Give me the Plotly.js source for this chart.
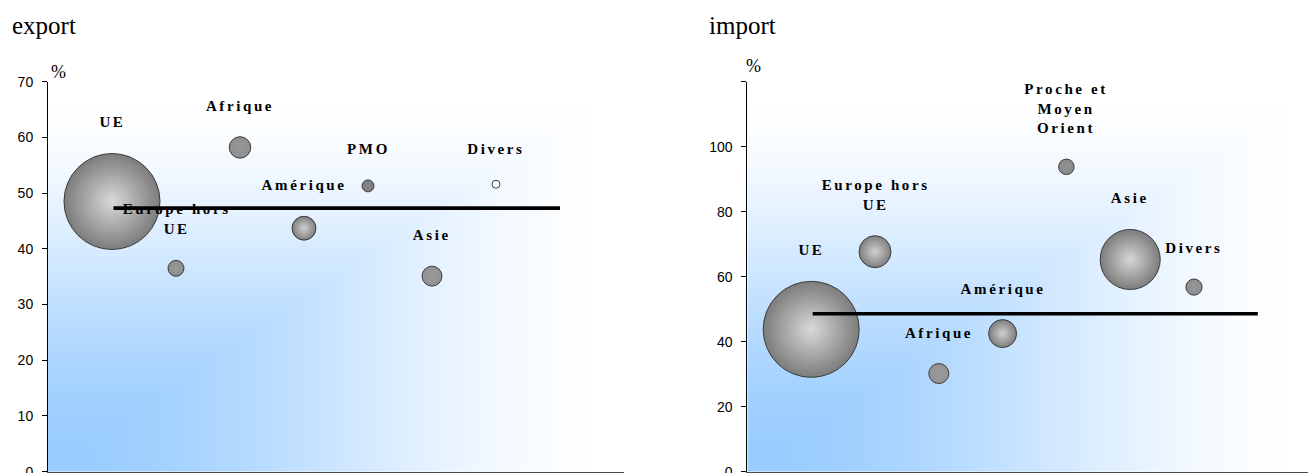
<!DOCTYPE html>
<html>
<head>
<meta charset="utf-8">
<script src="https://cdn.plot.ly/plotly-3.0.1.min.js"></script>
<style>
html,body{margin:0;padding:0;background:#ffffff;}
#chart{width:1308px;height:473px;}
</style>
</head>
<body>
<div id="chart"></div>
<script>
// ---------- data ----------
const exportLabels = ["UE", "Europe hors<br>UE", "Afrique", "Amérique", "PMO", "Asie", "Divers"];
const exportValues = [48.5, 36.5, 58.2, 43.7, 51.3, 35.1, 51.6];
const exportWeights = [58, 1.6, 2.9, 3.6, 0.9, 2.5, 0.4];
const exportAverage = 47.3;

const importLabels = ["UE", "Europe hors<br>UE", "Afrique", "Amérique", "Proche et<br>Moyen<br>Orient", "Asie", "Divers"];
const importValues = [43.8, 67.7, 30.2, 42.5, 93.8, 65.3, 56.8];
const importWeights = [46, 5.1, 2.0, 3.9, 1.2, 18, 1.3];
const importAverage = 48.6;

const averageSpan = [1, 8];
const exportTicks = [0, 10, 20, 30, 40, 50, 60, 70];
const exportTickText = ["0", "10", "20", "30", "40", "50", "60", "70"];
const importTicks = [0, 20, 40, 60, 80, 100, 120];
const importTickText = ["0", "20", "40", "60", "80", "100", ""];

// ---------- styles ----------
const W = 1308, H = 473;
const MAXR = 48;               // radius of the largest bubble (px)
const LABEL_GAP = 21;          // px between bubble top and label box bottom
const exportEdge   = ["#7c7c7c", "#8e8e8e", "#8f8f8f", "#7d7d7d", "#7a7a7a", "#929292", "#ffffff"];
const exportCenter = ["#d9d9d9", "#969696", "#979797", "#d0d0d0", "#8a8a8a", "#999999", "#ffffff"];
const importEdge   = ["#7c7c7c", "#7f7f7f", "#939393", "#7d7d7d", "#8a8a8a", "#7c7c7c", "#8e8e8e"];
const importCenter = ["#d9d9d9", "#cfcfcf", "#9a9a9a", "#d0d0d0", "#909090", "#d6d6d6", "#969696"];

function idx(arr){ return arr.map((_, i) => i + 1); }
function radii(w){ const m = Math.max(...w); return w.map(v => MAXR * Math.sqrt(v / m)); }

function bubbleTrace(vals, weights, edge, center, xa, ya){
  const m = Math.max(...weights);
  return {
    type: 'scatter', mode: 'markers', x: idx(vals), y: vals, xaxis: xa, yaxis: ya,
    cliponaxis: false, hoverinfo: 'skip',
    marker: {
      size: weights, sizemode: 'area', sizeref: m / (2 * MAXR * MAXR),
      color: edge, gradient: {type: 'radial', color: center},
      line: {color: '#3c3c3c', width: 1}, opacity: 1
    }
  };
}

const labelFont = {family: 'Liberation Serif, Times New Roman, serif', size: 15, color: '#000000', weight: 'bold'};
const annotations = [];
const labelIdx = [];
function addLabels(labels, vals, weights, xr, yr){
  const r = radii(weights);
  labels.forEach((t, i) => {
    labelIdx.push(annotations.length);
    annotations.push({
      text: t, x: i + 1, y: vals[i], xref: xr, yref: yr, showarrow: false,
      xanchor: 'center', yanchor: 'bottom', align: 'center',
      yshift: r[i] + LABEL_GAP, font: labelFont
    });
  });
}
addLabels(exportLabels, exportValues, exportWeights, 'x', 'y');
addLabels(importLabels, importValues, importWeights, 'x2', 'y2');

function addAverage(val, xr, yr){
  annotations.push({
    text: '', x: averageSpan[1], y: val, ax: averageSpan[0], ay: val,
    xref: xr, yref: yr, axref: xr, ayref: yr,
    showarrow: true, arrowhead: 0, arrowwidth: 3.6, arrowcolor: '#000000',
    standoff: 0, startstandoff: 0
  });
}
addAverage(exportAverage, 'x', 'y');
addAverage(importAverage, 'x2', 'y2');

const titleFont = {family: 'Liberation Serif, Times New Roman, serif', size: 25, color: '#000000'};
const pctFont = {family: 'Liberation Serif, Times New Roman, serif', size: 18, color: '#000000'};
annotations.push({text: 'export', xref: 'paper', yref: 'paper', x: 10 / W, y: 1 - 25 / H, xanchor: 'left', yanchor: 'middle', showarrow: false, font: titleFont});
annotations.push({text: 'import', xref: 'paper', yref: 'paper', x: 707 / W, y: 1 - 25 / H, xanchor: 'left', yanchor: 'middle', showarrow: false, font: titleFont});
annotations.push({text: '%', xref: 'paper', yref: 'paper', x: 58.5 / W, y: 1 - 72 / H, xanchor: 'center', yanchor: 'middle', showarrow: false, font: pctFont});
annotations.push({text: '%', xref: 'paper', yref: 'paper', x: 753 / W, y: 1 - 66 / H, xanchor: 'center', yanchor: 'middle', showarrow: false, font: pctFont});

// background gradient (from bottom-left corner) drawn on a canvas
function gradientImage(){
  const cw = 240, ch = 160;
  const c = document.createElement('canvas'); c.width = cw; c.height = ch;
  const g = c.getContext('2d');
  const img = g.createImageData(cw, ch);
  const c0 = [153, 204, 255];
  for (let j = 0; j < ch; j++) {
    for (let i = 0; i < cw; i++) {
      const u = i / (cw - 1), v = 1 - j / (ch - 1);
      let t = Math.max(u, v);
      t = t * t * (3 - 2 * t);
      const k = (j * cw + i) * 4;
      img.data[k]   = Math.round(c0[0] + (255 - c0[0]) * t);
      img.data[k+1] = Math.round(c0[1] + (255 - c0[1]) * t);
      img.data[k+2] = Math.round(c0[2] + (255 - c0[2]) * t);
      img.data[k+3] = 255;
    }
  }
  g.putImageData(img, 0, 0);
  return c.toDataURL('image/png');
}
const bg = gradientImage();

const yDom = [(H - 471.7) / H, (H - 81.7) / H];
const tickFont = {family: 'Liberation Sans, Arial, sans-serif', size: 14, color: '#000000'};
const yCommon = {
  showline: true, linecolor: '#000000', linewidth: 1, ticks: 'outside', ticklen: 5, tickwidth: 1, tickcolor: '#000000',
  showgrid: false, zeroline: false, tickfont: tickFont, tickmode: 'array', ticklabelstandoff: 6,
  ticklabeloverflow: 'allow', fixedrange: true
};
const xCommon = {
  showline: true, linecolor: '#454b52', linewidth: 2, ticks: '', showticklabels: false,
  showgrid: false, zeroline: false, fixedrange: true
};

const layout = {
  width: W, height: H, margin: {l: 0, r: 0, t: 0, b: 0},
  paper_bgcolor: '#ffffff', plot_bgcolor: '#ffffff', showlegend: false,
  xaxis: Object.assign({}, xCommon, {domain: [48 / W, 624 / W], range: [0, 9], anchor: 'y'}),
  yaxis: Object.assign({}, yCommon, {domain: yDom, range: [0, 70], tickvals: exportTicks, ticktext: exportTickText, anchor: 'x'}),
  xaxis2: Object.assign({}, xCommon, {domain: [747.4 / W, 1], range: [0, 8.787], anchor: 'y2'}),
  yaxis2: Object.assign({}, yCommon, {domain: yDom, range: [0, 120], tickvals: importTicks, ticktext: importTickText, anchor: 'x2'}),
  images: [
    {source: bg, xref: 'x', yref: 'y', x: 0, y: 70, sizex: 9, sizey: 70, sizing: 'stretch', layer: 'below', xanchor: 'left', yanchor: 'top'},
    {source: bg, xref: 'x2', yref: 'y2', x: 0, y: 120, sizex: 9, sizey: 120, sizing: 'stretch', layer: 'below', xanchor: 'left', yanchor: 'top'}
  ],
  annotations: annotations
};

const data = [
  bubbleTrace(exportValues, exportWeights, exportEdge, exportCenter, 'x', 'y'),
  bubbleTrace(importValues, importWeights, importEdge, importCenter, 'x2', 'y2')
];

Plotly.newPlot('chart', data, layout, {displayModeBar: false, staticPlot: true}).then(function(gd){
  labelIdx.forEach(function(i){
    const g = document.querySelector('g.annotation[data-index="' + i + '"] text.annotation-text');
    if (g) g.style.letterSpacing = '2.6px';
  });
});
</script>
</body>
</html>
